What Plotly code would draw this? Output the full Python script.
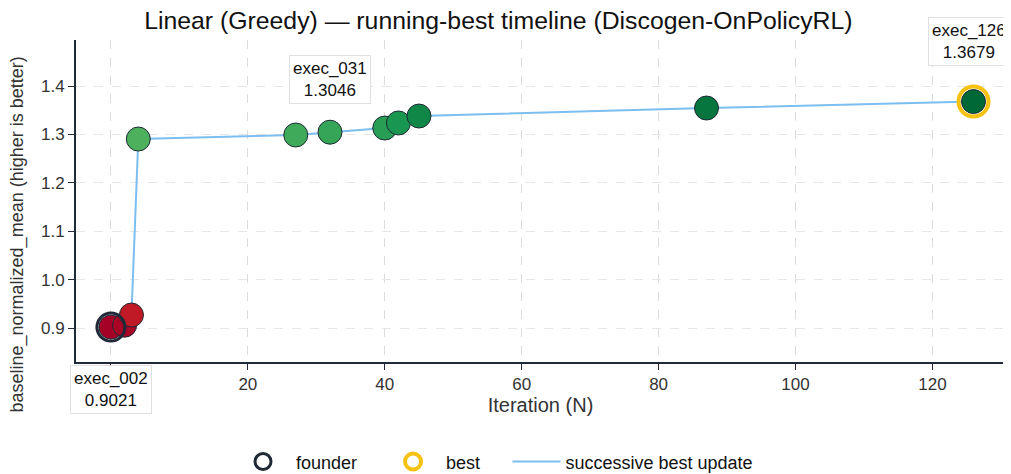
import plotly.graph_objects as go

iterations = [0, 2, 3, 4, 27, 32, 40, 42, 45, 87, 126]
values = [0.9021, 0.906, 0.927, 1.2905, 1.2988, 1.3046, 1.3132, 1.3236, 1.338, 1.3545, 1.3679]
label_names = ["exec_002", "exec_031", "exec_126"]
label_iters = [0, 32, 126]
label_vals = [0.9021, 1.3046, 1.3679]

founder_iter = [0]
founder_val = [0.9021]
best_iter = [126]
best_val = [1.3679]

FONT = "Liberation Sans, Arial, sans-serif"
DARK = "#1f2937"
LABEL_OFFSETS = {"exec_002": (0, -62), "exec_031": (0, 53), "exec_126": (-5, 60)}

fig = go.Figure()

fig.add_trace(go.Scatter(
    x=iterations, y=values, mode="lines",
    line=dict(color="#7dbef0", width=2),
    name="successive best update", legend="legend3",
))
fig.add_trace(go.Scatter(
    x=iterations, y=values, mode="markers",
    marker=dict(size=24, color=values, colorscale="RdYlGn",
                cmin=min(values), cmax=max(values),
                line=dict(color=DARK, width=1)),
    showlegend=False, name="runs",
))
fig.add_trace(go.Scatter(
    x=founder_iter, y=founder_val, mode="markers",
    marker=dict(size=28, color="rgba(0,0,0,0)", line=dict(color=DARK, width=3)),
    name="founder", legend="legend",
))
fig.add_trace(go.Scatter(
    x=best_iter, y=best_val, mode="markers",
    marker=dict(size=30, color="rgba(0,0,0,0)", line=dict(color="#f5c211", width=4)),
    name="best", legend="legend2",
))

for n, xi, yv in zip(label_names, label_iters, label_vals):
    dx, dy = LABEL_OFFSETS[n]
    fig.add_annotation(
        x=xi, y=yv, text=f"{n}<br>{yv:.4f}", showarrow=False, xshift=dx, yshift=dy,
        font=dict(family=FONT, size=17, color="#111111"),
        bgcolor="white", bordercolor="#e0e0e0", borderwidth=1, borderpad=3,
    )

fig.add_annotation(
    text="baseline_normalized_mean (higher is better)", textangle=-90,
    xref="paper", yref="paper", x=-0.063, y=0.3975, xanchor="center", yanchor="middle",
    showarrow=False, font=dict(family=FONT, size=18, color="#333333"),
)

leg_common = dict(orientation="h", xref="container", xanchor="left",
                  y=-0.31, yanchor="middle",
                  font=dict(family=FONT, size=18, color="#111111"))

fig.update_layout(
    width=1011, height=474,
    margin=dict(l=68, r=14, t=32, b=120, autoexpand=False),
    plot_bgcolor="white", paper_bgcolor="white",
    font=dict(family=FONT, size=17, color="#333333"),
    title=dict(text="Linear (Greedy) — running-best timeline (Discogen-OnPolicyRL)",
               x=0.485, xanchor="center", y=0.975, yanchor="middle",
               font=dict(family=FONT, size=24.8, color="#111111")),
    legend=dict(x=0.2196, itemwidth=56, **leg_common),
    legend2=dict(x=0.368, itemwidth=56, **leg_common),
    legend3=dict(x=0.494, itemwidth=48, **leg_common),
    xaxis=dict(title=dict(text="Iteration (N)", font=dict(size=20, color="#333333"), standoff=5),
               range=[-5.1, 130.6], dtick=20, showline=True, linecolor=DARK, linewidth=2,
               ticks="outside", tickcolor=DARK, ticklen=6, showgrid=True, automargin=False,
               gridcolor="#dcdcdc", griddash="dash", zeroline=False, tickfont=dict(size=17)),
    yaxis=dict(range=[0.83, 1.495], dtick=0.1, tickformat=".1f", showline=True,
               linecolor=DARK, linewidth=2, ticks="outside", tickcolor=DARK, ticklen=6,
               showgrid=True, gridcolor="#e6e6e6", griddash="dash", zeroline=False,
               automargin=False, tickfont=dict(size=17)),
)

fig.write_html("out.html")
